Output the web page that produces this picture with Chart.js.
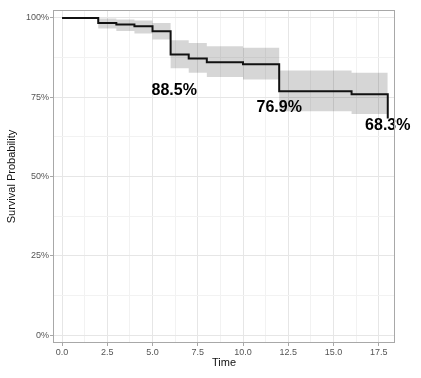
<!DOCTYPE html>
<html>
<head>
<meta charset="utf-8">
<script src="https://cdn.jsdelivr.net/npm/chart.js@4.4.1/dist/chart.umd.min.js"></script>
<style>
  html, body { margin: 0; padding: 0; background: #fff; }
  canvas { display: block; }
</style>
</head>
<body>
<canvas id="km" width="421" height="378" style="width:421px;height:378px"></canvas>
<script>
// Kaplan-Meier estimate (percent) with confidence band
const times = [0, 2, 3, 4, 5, 6, 7, 8, 10, 12, 16, 18];
const survival = [100, 98.4, 97.9, 97.4, 95.8, 88.5, 87.2, 86.0, 85.4, 76.9, 75.9, 68.3];
const upperCI = [100, 99.8, 99.5, 99.2, 98.4, 93.0, 92.1, 91.1, 90.6, 83.4, 82.7, 82.7];
const lowerCI = [100, 96.7, 95.9, 95.1, 93.2, 84.1, 82.7, 81.4, 80.6, 70.6, 69.7, 69.7];

// text annotations
const noteText = ['88.5%', '76.9%', '68.3%'];
const noteX = [6.2, 12.0, 18.0];
const noteY = [77.0, 71.7, 65.9];

// ticks (major get labels, minor only grid lines)
const xMajor = [0, 2.5, 5, 7.5, 10, 12.5, 15, 17.5];
const xMinor = [1.25, 3.75, 6.25, 8.75, 11.25, 13.75, 16.25];
const yMajor = [0, 25, 50, 75, 100];
const yMinor = [12.5, 37.5, 62.5, 87.5];

const pts = arr => times.map((t, i) => ({ x: t, y: arr[i] }));

const notesPlugin = {
  id: 'notes',
  afterDatasetsDraw(chart) {
    const { ctx, scales } = chart;
    ctx.save();
    ctx.font = 'bold 16px "Liberation Sans", Arial, sans-serif';
    ctx.fillStyle = '#000';
    ctx.textAlign = 'center';
    ctx.textBaseline = 'middle';
    noteText.forEach((txt, i) => {
      ctx.fillText(txt, scales.x.getPixelForValue(noteX[i]), scales.y.getPixelForValue(noteY[i]));
    });
    ctx.restore();
  },
  afterDraw(chart) {
    const a = chart.chartArea;
    const ctx = chart.ctx;
    ctx.save();
    ctx.strokeStyle = '#a8a8a8';
    ctx.lineWidth = 1;
    ctx.strokeRect(a.left + 0.5, a.top + 0.5, a.right - a.left - 1, a.bottom - a.top - 1);
    ctx.restore();
  }
};

const isMajor = (list, v) => list.some(m => Math.abs(m - v) < 1e-6);

new Chart(document.getElementById('km'), {
  type: 'line',
  data: {
    datasets: [
      {
        data: pts(survival),
        borderColor: '#111',
        borderWidth: 2,
        stepped: true,
        pointRadius: 0,
        fill: false,
        order: 0
      },
      {
        data: pts(upperCI),
        borderWidth: 0,
        borderColor: 'rgba(0,0,0,0)',
        backgroundColor: 'rgba(0,0,0,0.16)',
        stepped: true,
        pointRadius: 0,
        fill: '+1',
        order: 1
      },
      {
        data: pts(lowerCI),
        borderWidth: 0,
        borderColor: 'rgba(0,0,0,0)',
        stepped: true,
        pointRadius: 0,
        fill: false,
        order: 2
      }
    ]
  },
  options: {
    responsive: false,
    animation: false,
    events: [],
    layout: { padding: { top: 10, right: 26, left: 0, bottom: 0 } },
    scales: {
      x: {
        type: 'linear',
        min: -0.5,
        max: 18.4,
        afterFit: s => { s.height = 35; },
        afterBuildTicks: s => {
          s.ticks = xMajor.concat(xMinor).sort((a, b) => a - b).map(v => ({ value: v }));
        },
        border: { display: false },
        grid: {
          tickLength: 3,
          color: c => isMajor(xMajor, c.tick.value) ? '#e6e6e6' : '#f2f2f2',
          tickColor: c => isMajor(xMajor, c.tick.value) ? '#a8a8a8' : 'rgba(0,0,0,0)'
        },
        ticks: {
          padding: 1,
          maxRotation: 0,
          autoSkip: false,
          color: '#555',
          font: { family: '"Liberation Sans", Arial, sans-serif', size: 9 },
          callback: v => isMajor(xMajor, v) ? v.toFixed(1) : ''
        },
        title: {
          display: true,
          text: 'Time',
          color: '#111',
          font: { family: '"Liberation Sans", Arial, sans-serif', size: 11 },
          padding: { top: 0, bottom: 8 }
        }
      },
      y: {
        min: -2.5,
        max: 102.5,
        afterFit: s => { s.width = 53; },
        afterBuildTicks: s => {
          s.ticks = yMajor.concat(yMinor).sort((a, b) => a - b).map(v => ({ value: v }));
        },
        border: { display: false },
        grid: {
          tickLength: 3,
          color: c => isMajor(yMajor, c.tick.value) ? '#e6e6e6' : '#f2f2f2',
          tickColor: c => isMajor(yMajor, c.tick.value) ? '#a8a8a8' : 'rgba(0,0,0,0)'
        },
        ticks: {
          padding: 1,
          autoSkip: false,
          color: '#555',
          font: { family: '"Liberation Sans", Arial, sans-serif', size: 9 },
          callback: v => isMajor(yMajor, v) ? v + '%' : ''
        },
        title: {
          display: true,
          text: 'Survival Probability',
          color: '#111',
          font: { family: '"Liberation Sans", Arial, sans-serif', size: 11 },
          padding: { top: 5, bottom: 0 }
        }
      }
    },
    plugins: {
      legend: { display: false },
      tooltip: { enabled: false }
    }
  },
  plugins: [notesPlugin]
});
</script>
</body>
</html>
